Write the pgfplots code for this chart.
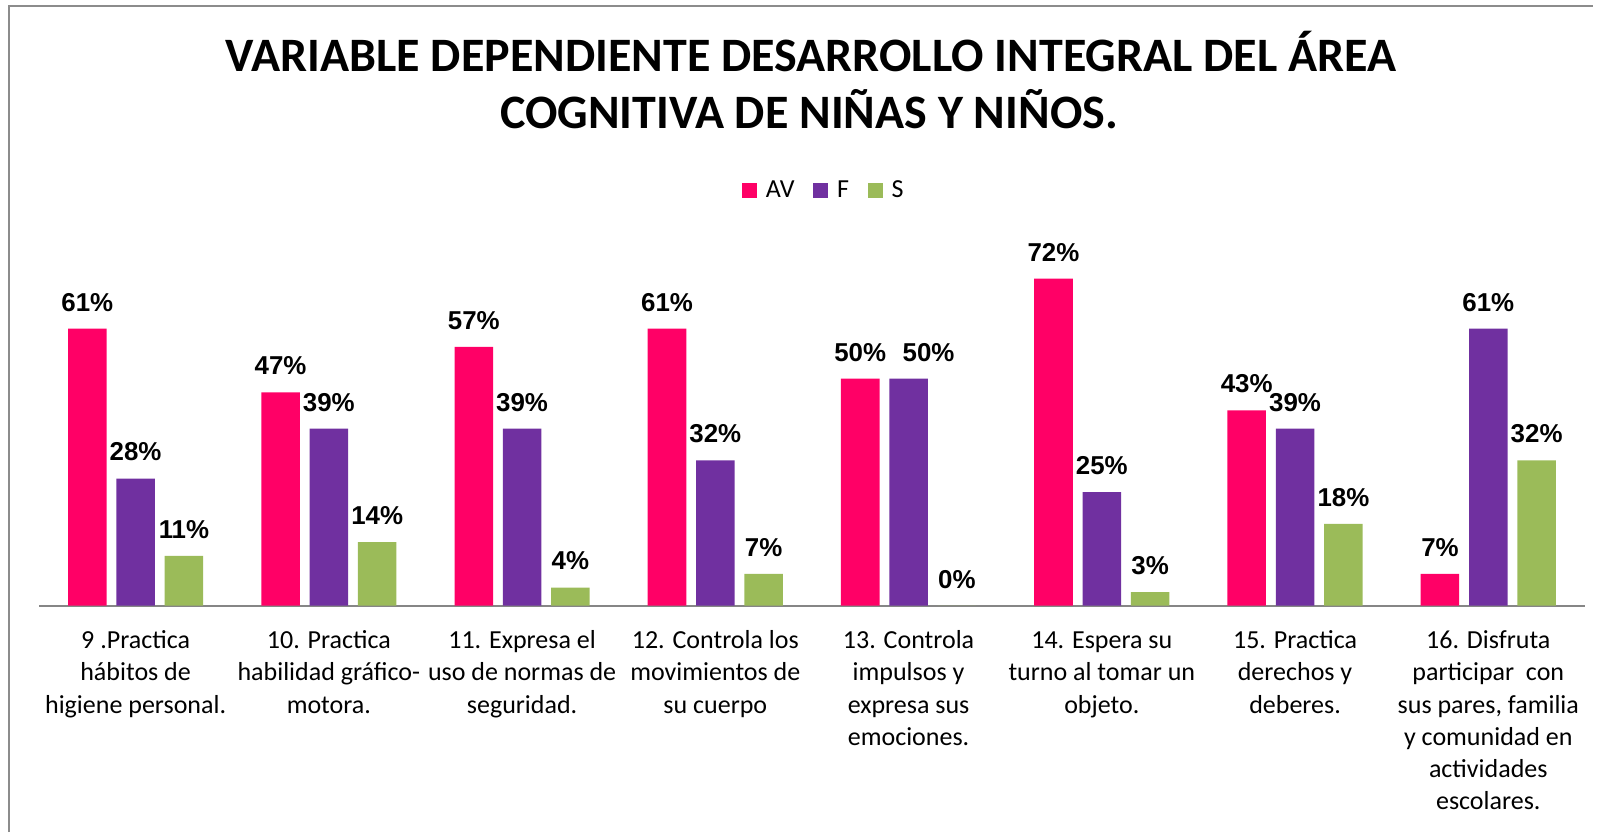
\documentclass[border=0pt]{standalone}
\usepackage{fontspec}
\usepackage{pgfplots}
\pgfplotsset{compat=1.18}
\setmainfont{Carlito}
\newfontfamily\arialf{Liberation Sans}
\definecolor{cAV}{HTML}{FF0066}
\definecolor{cF}{HTML}{7030A0}
\definecolor{cS}{HTML}{9BBB59}
\definecolor{axgray}{HTML}{868686}
\definecolor{framegray}{HTML}{8C8C8C}
\begin{document}
\begin{tikzpicture}
\path[use as bounding box] (0,0) rectangle (1204.5pt,-624pt);
\draw[framegray, line width=1.1pt] (6.75pt,-624pt) -- (6.75pt,-4.5pt) -- (1194.75pt,-4.5pt);
\node[anchor=base, inner sep=0pt, font=\bfseries\fontsize{36}{42}\selectfont] at (608.25pt,-53.6pt) {VARIABLE DEPENDIENTE DESARROLLO INTEGRAL DEL ÁREA};
\node[anchor=base, inner sep=0pt, font=\bfseries\fontsize{36}{42}\selectfont] at (606.75pt,-96pt) {COGNITIVA DE NIÑAS Y NIÑOS.};
\begin{axis}[
 at={(29.25pt,-454.3pt)}, anchor=south west,
 scale only axis, width=1159.5pt, height=272.5pt,
 xmin=-0.5, xmax=7.5, ymin=0, ymax=80,
 axis x line*=bottom, axis y line=none,
 x axis line style={axgray, line width=1.3pt},
 ytick=\empty,
 xtick={0,...,7},
 xtick style={draw=none},
 major tick length=0pt,
 xticklabels={
  {\strut 9 .Practica\\hábitos de\\higiene personal.},
  {\strut 10. Practica\\habilidad gráfico-\\motora.},
  {\strut 11. Expresa el\\uso de normas de\\seguridad.},
  {\strut 12. Controla los\\movimientos de\\su cuerpo},
  {\strut 13. Controla\\impulsos y\\expresa sus\\emociones.},
  {\strut 14. Espera su\\turno al tomar un\\objeto.},
  {\strut 15. Practica\\derechos y\\deberes.},
  {\strut 16. Disfruta\\participar~ con\\sus pares, familia\\y comunidad en\\actividades\\escolares.}
 },
 xticklabel style={anchor=north, yshift=-14.96pt, align=center, inner sep=0pt, font=\fontsize{19.5}{24.2}\selectfont},
 ybar=7.35pt, bar width=28.9pt,
 clip=false,
 /pgf/number format/assume math mode=true,
 nodes near coords={\pgfmathprintnumber{\pgfplotspointmeta}\%},
 every node near coord/.append style={font=\arialf\bfseries\fontsize{19.4}{22}\selectfont, anchor=base, yshift=13.2pt, inner sep=0pt, text=black},
 legend columns=-1,
 legend image code/.code={\fill[#1] (0pt,0pt) rectangle (11.25pt,11.25pt);},
 legend style={at={(0.4545,1.1773)}, anchor=north west, draw=none, fill=none, inner sep=0pt, font=\fontsize{19.5}{24}\selectfont, cells={anchor=base west, inner sep=0pt}, /tikz/every odd column/.append style={column sep=4.7pt}, /tikz/every even column/.append style={column sep=12pt}},
]
\addplot[fill=cAV, draw=none] coordinates {(0,61) (1,47) (2,57) (3,61) (4,50) (5,72) (6,43) (7,7)};
\addplot[fill=cF, draw=none,
  visualization depends on={value \coordindex \as \myidx},
  every node near coord/.append style={xshift={ifthenelse(\myidx==4,15,0)*1pt}}]
  coordinates {(0,28) (1,39) (2,39) (3,32) (4,50) (5,25) (6,39) (7,61)};
\addplot[fill=cS, draw=none] coordinates {(0,11) (1,14) (2,4) (3,7) (4,0) (5,3) (6,18) (7,32)};
\legend{AV,F,S}
\end{axis}
\end{tikzpicture}
\end{document}
